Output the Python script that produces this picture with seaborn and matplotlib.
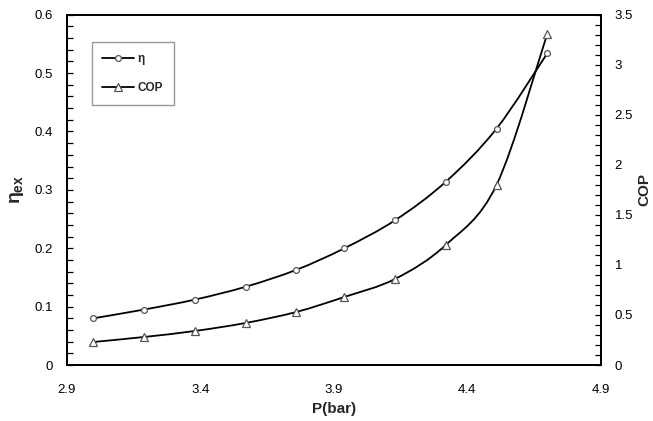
import numpy as np
import pandas as pd
import seaborn as sns
import matplotlib
matplotlib.use("Agg")
import matplotlib.pyplot as plt
from matplotlib.path import Path
from matplotlib.patches import PathPatch
from matplotlib.lines import Line2D
from matplotlib.ticker import MultipleLocator, FuncFormatter

# ---- data ----
pressure = [3.00, 3.19, 3.38, 3.57, 3.76, 3.94, 4.13, 4.32, 4.51, 4.70]
eta_ex = [0.080, 0.095, 0.112, 0.134, 0.163, 0.200, 0.248, 0.314, 0.405, 0.534]
cop = [0.23, 0.28, 0.34, 0.42, 0.53, 0.68, 0.86, 1.20, 1.80, 3.31]

x_ticks = [2.9, 3.4, 3.9, 4.4, 4.9]
x_label = "P(bar)"
y_label = r"$\eta_{\mathrm{ex}}$"
y2_label = "COP"
legend_labels = ["η", "COP"]

df = pd.DataFrame({"P": pressure, "eta": eta_ex, "COP": cop})

sns.set_theme(style="white")
plt.rcParams["font.family"] = ["Liberation Sans", "DejaVu Sans"]
plt.rcParams["mathtext.fontset"] = "custom"
plt.rcParams["mathtext.rm"] = "Liberation Sans:bold"
plt.rcParams["mathtext.it"] = "Liberation Sans:bold"
plt.rcParams["mathtext.bf"] = "Liberation Sans:bold"

fig = plt.figure(figsize=(6.53, 4.21), dpi=100)
ax = fig.add_axes([0.1021, 0.133, 0.8178, 0.832])
ax2 = ax.twinx()


def smooth_path(xs, ys):
    """Catmull-Rom style Bezier through the data points (Excel-like smoothing)."""
    xs = np.asarray(xs, float)
    ys = np.asarray(ys, float)
    pts = np.column_stack([xs, ys])
    n = len(pts)
    verts = [pts[0]]
    codes = [Path.MOVETO]
    for i in range(n - 1):
        p0 = pts[i - 1] if i > 0 else pts[i]
        p1 = pts[i]
        p2 = pts[i + 1]
        p3 = pts[i + 2] if i + 2 < n else pts[i + 1]
        c1 = p1 + (p2 - p0) / 6.0
        c2 = p2 - (p3 - p1) / 6.0
        verts += [c1, c2, p2]
        codes += [Path.CURVE4] * 3
    return Path(verts, codes)


lw = 1.3
mec = "#555555"
ax.add_patch(PathPatch(smooth_path(df["P"], df["eta"]), facecolor="none",
                       edgecolor="black", lw=lw, zorder=2))
ax2.add_patch(PathPatch(smooth_path(df["P"], df["COP"]), facecolor="none",
                        edgecolor="black", lw=lw, zorder=2))

sns.lineplot(data=df, x="P", y="eta", ax=ax, linestyle="none", marker="o",
             markersize=4.2, markerfacecolor="white", markeredgecolor=mec,
             markeredgewidth=0.9, zorder=3)
sns.lineplot(data=df, x="P", y="COP", ax=ax2, linestyle="none", marker="^",
             markersize=6, markerfacecolor="white", markeredgecolor=mec,
             markeredgewidth=0.9, zorder=3)

ax.set_xlim(2.9, 4.9)
ax.set_ylim(0, 0.6)
ax2.set_ylim(0, 3.5)
ax.set_xticks(x_ticks)
ax.set_xticklabels([f"{t:g}" for t in x_ticks])
ax.xaxis.set_minor_locator(MultipleLocator(0.1))
ax.yaxis.set_major_locator(MultipleLocator(0.1))
ax.yaxis.set_minor_locator(MultipleLocator(0.02))
ax.yaxis.set_major_formatter(FuncFormatter(lambda v, p: f"{v:g}"))
ax2.yaxis.set_major_locator(MultipleLocator(0.5))
ax2.yaxis.set_minor_locator(MultipleLocator(0.1))
ax2.yaxis.set_major_formatter(FuncFormatter(lambda v, p: f"{v:g}"))

for a in (ax, ax2):
    for s in a.spines.values():
        s.set_color("black")
        s.set_linewidth(1.4)
    a.tick_params(which="both", direction="in", color="black", width=0.9,
                  labelsize=9.5, labelcolor="black")
    a.tick_params(which="major", length=4)
    a.tick_params(which="minor", length=4)
    a.grid(False)

ax.tick_params(axis="x", which="both", pad=14)
ax.tick_params(axis="y", which="both", pad=10, left=True, right=False)
ax2.tick_params(axis="y", which="both", pad=10, right=True, left=False)

ax.set_xlabel(x_label, fontsize=11, fontweight="bold", labelpad=4)
ax.set_ylabel(y_label, fontsize=14, labelpad=6)
ax2.set_ylabel(y2_label, fontsize=11, fontweight="bold", labelpad=3)

handles = [
    Line2D([], [], color="black", lw=lw, marker="o", markersize=4.2,
           markerfacecolor="white", markeredgecolor=mec, markeredgewidth=0.9),
    Line2D([], [], color="black", lw=lw, marker="^", markersize=6,
           markerfacecolor="white", markeredgecolor=mec, markeredgewidth=0.9),
]
leg = ax.legend(handles, legend_labels, loc="upper left",
                bbox_to_anchor=(0.047, 0.922), borderaxespad=0.0,
                frameon=True, fancybox=False,
                handlelength=2.7, handletextpad=0.3, labelspacing=1.5,
                borderpad=0.9, prop={"size": 8.5, "weight": "bold"})
leg.get_frame().set_edgecolor("#808080")
leg.get_frame().set_linewidth(1.0)
leg.set_zorder(5)

fig.savefig("out.png", dpi=100)
